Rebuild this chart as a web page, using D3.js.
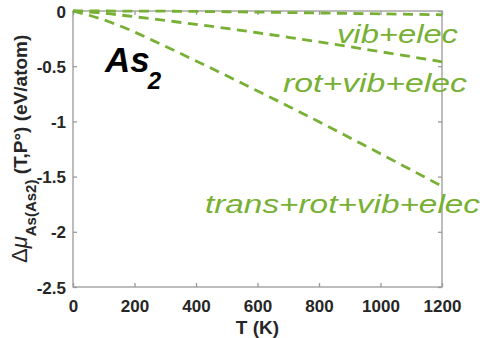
<!DOCTYPE html>
<html>
<head>
<meta charset="utf-8">
<script src="https://cdn.jsdelivr.net/npm/d3@7"></script>
<style>
  body { margin: 0; background: #fff; }
  text { font-family: "Liberation Sans", Arial, sans-serif; }
</style>
</head>
<body>
<svg id="chart" width="483" height="338"></svg>
<script>
// temperatures (K)
var temps = [0, 100, 200, 300, 400, 500, 600, 700, 800, 900, 1000, 1100, 1200];
// delta mu (eV/atom)
var vibElec = [0, 0, -0.001, -0.002, -0.004, -0.007, -0.01, -0.014, -0.018, -0.022, -0.026, -0.03, -0.034];
var rotVibElec = [0, -0.02, -0.052, -0.086, -0.121, -0.158, -0.197, -0.238, -0.28, -0.324, -0.369, -0.414, -0.46];
var transRotVibElec = [0, -0.08, -0.19, -0.32, -0.452, -0.587, -0.724, -0.862, -1.003, -1.148, -1.293, -1.44, -1.588];
var seriesNames = ['vib+elec', 'rot+vib+elec', 'trans+rot+vib+elec'];
var xTicks = [0, 200, 400, 600, 800, 1000, 1200];
var yTicks = [0, -0.5, -1, -1.5, -2, -2.5];

var svg = d3.select('#chart');
var pLeft = 73, pRight = 442, pTop = 11, pBottom = 287;
var green = '#77b034', axisGray = '#9a9a9a', labelCol = '#262626';

var x = d3.scaleLinear().domain([0, 1200]).range([pLeft, pRight]);
var y = d3.scaleLinear().domain([-2.5, 0]).range([pBottom, pTop]);

// box
svg.append('rect')
  .attr('x', pLeft).attr('y', pTop)
  .attr('width', pRight - pLeft).attr('height', pBottom - pTop)
  .attr('fill', 'none').attr('stroke', axisGray).attr('stroke-width', 1.3);

// axes, ticks inward
var xAxis = svg.append('g').attr('transform', 'translate(0,' + pBottom + ')')
  .call(d3.axisBottom(x).tickValues(xTicks).tickSizeInner(-4).tickSizeOuter(0).tickPadding(10)
    .tickFormat(function (d) { return String(d); }));
var yAxis = svg.append('g').attr('transform', 'translate(' + pLeft + ',0)')
  .call(d3.axisLeft(y).tickValues(yTicks).tickSizeInner(-4).tickSizeOuter(0).tickPadding(7)
    .tickFormat(function (d) { return String(d); }));
svg.append('g').attr('transform', 'translate(0,' + pTop + ')')
  .call(d3.axisTop(x).tickValues(xTicks).tickSizeInner(-4).tickSizeOuter(0).tickFormat(''));
svg.append('g').attr('transform', 'translate(' + pRight + ',0)')
  .call(d3.axisRight(y).tickValues(yTicks).tickSizeInner(-4).tickSizeOuter(0).tickFormat(''));

svg.selectAll('.domain').remove();
svg.selectAll('.tick line').attr('stroke', axisGray).attr('stroke-width', 1.3);
svg.selectAll('.tick text')
  .attr('fill', labelCol)
  .style('font-size', '17px')
  .style('font-weight', 'bold');
xAxis.selectAll('.tick text').attr('dy', '0.9em');
yAxis.selectAll('.tick text').attr('dy', '0.36em');

// lines
var line = d3.line()
  .curve(d3.curveMonotoneX)
  .x(function (d) { return x(d[0]); })
  .y(function (d) { return y(d[1]); });

[vibElec, rotVibElec, transRotVibElec].forEach(function (vals) {
  svg.append('path')
    .datum(temps.map(function (t, i) { return [t, vals[i]]; }))
    .attr('d', line)
    .attr('fill', 'none')
    .attr('stroke', green)
    .attr('stroke-width', 2.8)
    .attr('stroke-dasharray', '10,6.5');
});

// series labels
var labelPos = [[337, 43, 121], [283, 92, 184], [205, 213, 275]];
seriesNames.forEach(function (name, i) {
  svg.append('text')
    .attr('x', labelPos[i][0]).attr('y', labelPos[i][1])
    .attr('textLength', labelPos[i][2])
    .attr('lengthAdjust', 'spacingAndGlyphs')
    .attr('fill', green)
    .style('font-size', '26px')
    .style('font-style', 'italic')
    .text(name);
});

// As2 label
var as2 = svg.append('text')
  .attr('x', 105).attr('y', 72)
  .attr('fill', '#000')
  .style('font-size', '35px')
  .style('font-weight', 'bold')
  .style('font-style', 'italic');
as2.append('tspan').text('As');
as2.append('tspan').attr('dx', -2).attr('dy', 17).style('font-size', '24px').text('2');

// x label
svg.append('text')
  .attr('x', (pLeft + pRight) / 2).attr('y', 334)
  .attr('text-anchor', 'middle')
  .attr('fill', labelCol)
  .style('font-size', '19px')
  .style('font-weight', 'bold')
  .text('T (K)');

// y label
var yl = svg.append('text')
  .attr('transform', 'translate(27,263) rotate(-90)')
  .attr('fill', labelCol)
  .style('font-size', '19px')
  .style('font-weight', 'bold');
yl.append('tspan').style('font-weight', 'normal').style('font-size', '22px').text('\u0394');
yl.append('tspan').style('font-weight', 'normal').style('font-style', 'italic').style('font-size', '22px').text('\u03bc');
yl.append('tspan').attr('dy', 9).style('font-size', '15px').text('As(As2)');
yl.append('tspan').attr('dy', -9).text(' (T,P\u00b0) (eV/atom)');
</script>
</body>
</html>
